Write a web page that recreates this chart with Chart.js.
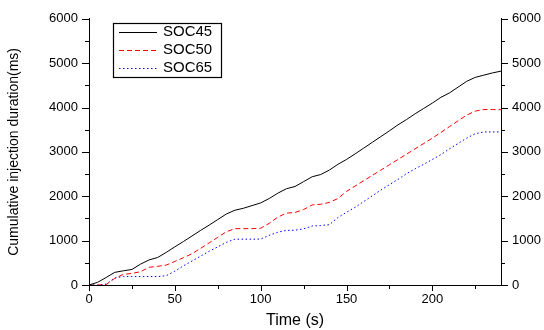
<!DOCTYPE html>
<html>
<head>
<meta charset="utf-8">
<script src="https://cdn.jsdelivr.net/npm/chart.js@4"></script>
<style>
  html, body { margin: 0; background: #fff; }
  #wrap { width: 544px; height: 330px; }
</style>
</head>
<body>
<div id="wrap"><canvas id="c"></canvas></div>
<script>
// time axis (s)
const timeS = [0, 5, 10, 15, 20, 25, 30, 35, 40, 45, 50, 55, 60, 65, 70, 75, 80, 85, 90, 95,
  100, 105, 110, 115, 120, 125, 130, 135, 140, 145, 150, 155, 160, 165, 170, 175, 180, 185, 190, 195,
  200, 205, 210, 215, 220, 225, 230, 235, 240];

// cumulative injection duration (ms)
const soc45 = [0, 60, 170, 285, 320, 350, 470, 565, 620, 735, 860, 980, 1105, 1230, 1350, 1475, 1600, 1685, 1730, 1790,
  1850, 1950, 2070, 2170, 2220, 2330, 2440, 2490, 2590, 2720, 2830, 2955, 3085, 3215, 3345, 3475, 3610, 3730, 3860, 3980,
  4100, 4230, 4330, 4460, 4590, 4680, 4730, 4780, 4820];
const soc50 = [0, 0, 10, 150, 240, 260, 300, 400, 420, 450, 530, 615, 705, 825, 950, 1075, 1200, 1270, 1270, 1270,
  1280, 1390, 1530, 1620, 1635, 1700, 1805, 1820, 1860, 1950, 2110, 2230, 2350, 2470, 2590, 2710, 2830, 2950, 3070, 3190,
  3310, 3440, 3570, 3700, 3830, 3920, 3955, 3955, 3950];
const soc65 = [0, 0, 20, 160, 190, 190, 190, 190, 190, 210, 310, 430, 540, 650, 760, 860, 960, 1033, 1033, 1033,
  1035, 1120, 1190, 1230, 1235, 1265, 1330, 1340, 1360, 1520, 1640, 1750, 1880, 2010, 2140, 2260, 2380, 2510, 2620, 2720,
  2830, 2940, 3070, 3190, 3310, 3410, 3450, 3450, 3450];

const seriesNames = ['SOC45', 'SOC50', 'SOC65'];

// tick positions
const xMajor = [0, 50, 100, 150, 200];
const xMinor = [25, 75, 125, 175, 225];
const yMajor = [0, 1000, 2000, 3000, 4000, 5000, 6000];
const yMinor = [500, 1500, 2500, 3500, 4500, 5500];

const FONT = 'Arial, "Liberation Sans", sans-serif';

function toPoints(vals) {
    return vals.map((v, i) => ({ x: timeS[i], y: v }));
}

// minor/major tick marks + legend box in the plot corner
const frame = {
    id: 'frame',
    afterDraw: function (chart) {
        const ctx = chart.ctx;
        const sx = chart.scales.x, sy = chart.scales.y;
        const a = chart.chartArea;
        ctx.save();
        ctx.strokeStyle = '#000';
        ctx.lineWidth = 1;
        ctx.beginPath();
        xMajor.forEach(v => { let p = Math.round(sx.getPixelForValue(v)) + 0.5; ctx.moveTo(p, a.bottom); ctx.lineTo(p, a.bottom + 6); });
        xMinor.forEach(v => { let p = Math.round(sx.getPixelForValue(v)) + 0.5; ctx.moveTo(p, a.bottom); ctx.lineTo(p, a.bottom + 4); });
        yMajor.forEach(v => {
            let p = Math.round(sy.getPixelForValue(v)) + 0.5;
            ctx.moveTo(a.left - 7, p); ctx.lineTo(a.left, p);
            ctx.moveTo(a.right, p); ctx.lineTo(a.right + 7, p);
        });
        yMinor.forEach(v => {
            let p = Math.round(sy.getPixelForValue(v)) + 0.5;
            ctx.moveTo(a.left - 4, p); ctx.lineTo(a.left, p);
            ctx.moveTo(a.right, p); ctx.lineTo(a.right + 4, p);
        });
        ctx.stroke();

        // legend
        ctx.lineWidth = 1.2;
        ctx.strokeRect(113.5, 23.5, 108, 54);
        ctx.font = '15px ' + FONT;
        ctx.fillStyle = '#000';
        ctx.textBaseline = 'middle';
        const rows = [32, 50, 68];
        chart.data.datasets.forEach((ds, i) => {
            ctx.beginPath();
            ctx.lineWidth = 1;
            ctx.strokeStyle = ds.borderColor;
            ctx.setLineDash(ds.borderDash || []);
            ctx.moveTo(119, rows[i] + 0.5);
            ctx.lineTo(157, rows[i] + 0.5);
            ctx.stroke();
            ctx.setLineDash([]);
            ctx.fillText(ds.label, 163, rows[i]);
        });
        ctx.restore();
    }
};

const tickFont = { family: FONT, size: 13 };
const plain = v => String(v);

new Chart(document.getElementById('c'), {
    type: 'line',
    data: {
        datasets: [
            { label: seriesNames[0], data: toPoints(soc45), borderColor: '#000000', borderWidth: 1, borderDash: [] },
            { label: seriesNames[1], data: toPoints(soc50), borderColor: '#ff0000', borderWidth: 1, borderDash: [5, 3] },
            { label: seriesNames[2], data: toPoints(soc65), borderColor: '#0000ff', borderWidth: 1, borderDash: [1.5, 2.5] }
        ]
    },
    options: {
        responsive: true,
        maintainAspectRatio: false,
        animation: false,
        layout: { padding: { top: 14, left: 0, right: 0, bottom: 0 } },
        elements: { point: { radius: 0 }, line: { tension: 0 } },
        plugins: { legend: { display: false }, tooltip: { enabled: false } },
        scales: {
            x: {
                type: 'linear', min: 0, max: 240,
                grid: { display: true, drawOnChartArea: false, drawTicks: false },
                border: { display: true, color: '#000', width: 1 },
                ticks: { stepSize: 50, includeBounds: false, color: '#000', font: tickFont, padding: 7, maxRotation: 0, callback: plain },
                title: { display: true, text: 'Time (s)', color: '#000', font: { family: FONT, size: 16 }, padding: { top: 0, bottom: 0 } },
                afterFit: s => { s.height = 45; }
            },
            y: {
                position: 'left', min: 0, max: 6000,
                grid: { display: true, drawOnChartArea: false, drawTicks: false },
                border: { display: true, color: '#000', width: 1 },
                ticks: { stepSize: 1000, color: '#000', font: tickFont, padding: 11, callback: plain },
                title: { display: true, text: 'Cumulative injection duration(ms)', color: '#000', font: { family: FONT, size: 14 }, padding: { top: 6, bottom: 0 } },
                afterFit: s => { s.width = 89; }
            },
            y2: {
                position: 'right', min: 0, max: 6000,
                grid: { display: true, drawOnChartArea: false, drawTicks: false },
                border: { display: true, color: '#000', width: 1 },
                ticks: { stepSize: 1000, color: '#000', font: tickFont, padding: 11, callback: plain },
                afterFit: s => { s.width = 43; }
            }
        }
    },
    plugins: [frame]
});
</script>
</body>
</html>
